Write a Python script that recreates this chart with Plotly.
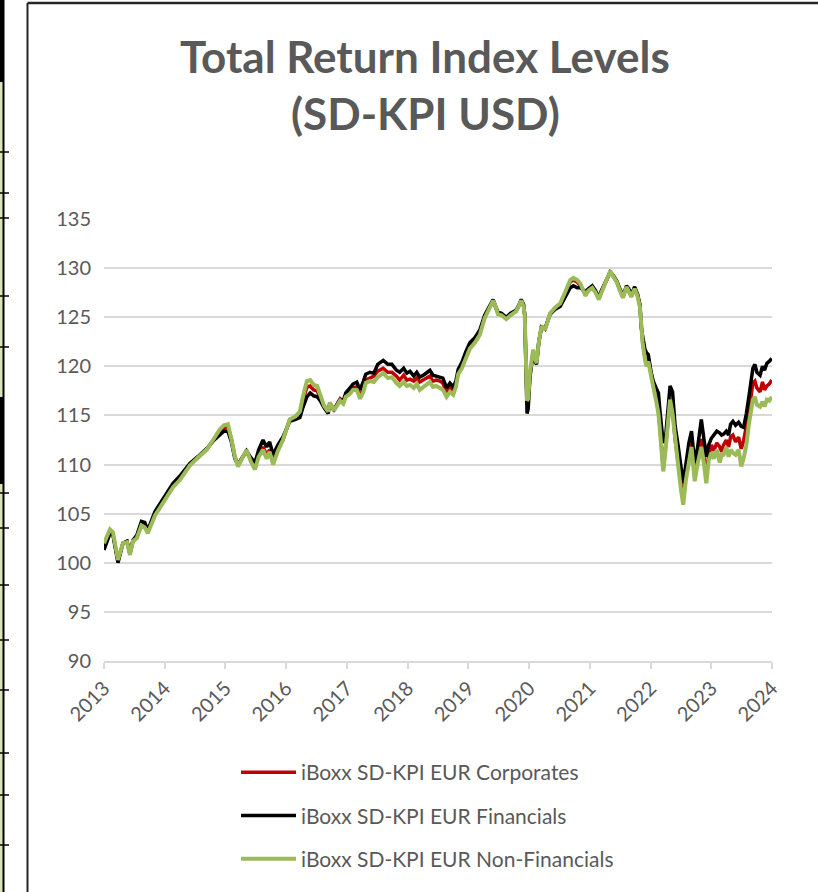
import plotly.graph_objects as go

dates = [
"2013-01-01","2013-02-06","2013-02-24","2013-03-08","2013-03-26","2013-04-25","2013-05-19","2013-06-06","2013-06-24","2013-07-17",
"2013-08-14","2013-09-03","2013-09-21","2013-11-03","2013-12-20","2014-02-20","2014-04-01","2014-06-01","2014-07-19","2014-09-09",
"2014-10-19","2014-11-29","2014-12-23","2015-01-16","2015-02-06","2015-02-27","2015-03-18","2015-04-16","2015-05-08","2015-06-03",
"2015-06-28","2015-07-20","2015-08-15","2015-09-06","2015-09-24","2015-10-15","2015-11-13","2015-12-13","2016-01-23","2016-02-27",
"2016-03-24","2016-04-11","2016-05-05","2016-05-25","2016-06-15","2016-07-06","2016-07-24","2016-08-16","2016-09-10","2016-09-20",
"2016-10-15","2016-11-02","2016-11-21","2016-12-10","2016-12-25","2017-01-19","2017-02-06","2017-03-01","2017-03-21","2017-04-10",
"2017-04-24","2017-05-19","2017-06-12","2017-07-05","2017-08-07","2017-09-04","2017-09-28","2017-10-26","2017-11-14","2017-12-08",
"2017-12-27","2018-01-15","2018-02-07","2018-02-25","2018-03-15","2018-04-14","2018-05-15","2018-06-02","2018-06-21","2018-07-14",
"2018-08-01","2018-08-23","2018-09-12","2018-10-02","2018-10-18","2018-11-01","2018-11-23","2018-12-17","2019-01-10","2019-02-09",
"2019-03-11","2019-04-09","2019-05-10","2019-05-30","2019-06-14","2019-06-28","2019-07-20","2019-08-17","2019-09-12","2019-10-15",
"2019-11-05","2019-11-15","2019-11-29","2019-12-06","2019-12-14","2019-12-20","2019-12-27","2020-01-06","2020-01-26","2020-02-06",
"2020-02-15","2020-02-29","2020-03-16","2020-04-06","2020-05-07","2020-06-06","2020-07-06","2020-08-06","2020-09-05","2020-09-24",
"2020-10-16","2020-11-05","2020-12-05","2020-12-23","2021-01-15","2021-02-04","2021-02-24","2021-03-11","2021-03-25","2021-04-14",
"2021-05-03","2021-05-20","2021-06-11","2021-06-30","2021-07-19","2021-08-09","2021-08-22","2021-09-07","2021-09-27","2021-10-15",
"2021-10-29","2021-11-06","2021-11-14","2021-11-27","2021-12-07","2021-12-18","2022-01-04","2022-01-17","2022-02-03","2022-02-17",
"2022-02-26","2022-03-07","2022-03-18","2022-04-01","2022-04-16","2022-04-28","2022-05-13","2022-05-28","2022-06-15","2022-07-02",
"2022-07-16","2022-08-01","2022-08-19","2022-09-04","2022-09-13","2022-09-23","2022-10-11","2022-11-02","2022-11-16","2022-12-02",
"2022-12-16","2023-01-02","2023-01-16","2023-02-03","2023-02-21","2023-03-04","2023-03-16","2023-04-01","2023-04-15","2023-04-27",
"2023-05-11","2023-05-27","2023-06-14","2023-06-30","2023-07-14","2023-07-31","2023-08-14","2023-08-31","2023-09-08","2023-09-20",
"2023-10-02","2023-10-21","2023-11-05","2023-11-17","2023-12-01","2023-12-15","2023-12-31",
]

corporates = [
101.6,103.2,102.9,101.8,100.2,102.0,102.2,100.9,102.2,102.6,
104.0,104.0,103.2,105.0,106.3,107.9,108.6,110.0,110.7,111.5,
112.4,113.3,113.7,113.8,112.6,110.8,110.0,110.8,111.3,110.5,
109.7,111.0,111.8,111.0,111.5,110.4,111.6,112.5,114.6,114.8,
115.3,116.5,117.9,118.0,117.6,117.5,116.9,116.0,115.5,116.3,
115.6,116.2,116.7,116.4,117.0,117.5,117.8,117.9,116.9,117.8,
118.6,118.8,119.0,119.5,119.8,119.4,119.4,119.0,118.6,119.1,
118.6,118.7,118.5,118.8,118.4,118.7,119.0,118.5,118.6,118.5,
118.3,117.3,117.8,117.4,118.2,119.3,120.0,121.0,122.0,122.6,
123.4,125.0,126.0,126.7,126.0,125.4,125.3,124.9,125.3,125.6,
126.3,126.7,126.2,125.2,120.0,116.2,116.4,119.0,121.5,120.6,
120.4,122.5,124.1,123.8,125.4,125.9,126.3,127.4,128.6,128.8,
128.6,128.2,127.4,127.8,128.0,127.6,126.9,127.6,128.1,128.9,
129.6,129.2,128.6,127.8,127.0,128.1,127.7,127.1,128.0,127.2,
126.1,123.6,122.5,121.0,120.2,120.8,119.0,118.1,116.9,115.4,
113.8,111.5,109.5,111.8,114.8,116.6,115.6,112.6,110.3,108.0,
106.5,108.8,110.8,112.2,110.5,108.8,110.5,112.6,111.0,109.0,
110.9,112.0,111.4,112.2,111.8,111.3,112.0,112.5,111.8,112.8,
113.0,112.3,112.8,111.6,112.4,113.9,115.2,117.3,118.3,118.5,
117.8,117.4,118.4,117.6,118.0,118.2,118.6,
]

financials = [
101.3,103.0,102.8,101.6,100.0,102.0,102.2,100.9,102.3,102.8,
104.2,104.1,103.3,105.2,106.5,108.1,108.8,110.1,110.8,111.6,
112.4,113.0,113.4,113.4,112.3,110.6,110.0,110.8,111.4,110.7,
110.2,111.5,112.5,111.8,112.3,111.0,112.0,112.8,114.4,114.6,
114.8,115.8,116.9,117.3,117.0,116.9,116.5,115.8,115.2,116.2,
115.5,116.1,116.6,116.5,117.3,117.8,118.2,118.4,117.6,118.5,
119.2,119.4,119.3,120.2,120.6,120.2,120.2,119.6,119.4,119.8,
119.3,119.5,119.0,119.4,118.9,119.2,119.6,119.1,119.0,118.9,
118.8,117.8,118.3,117.9,118.5,119.7,120.4,121.5,122.4,122.9,
123.7,125.2,126.2,126.8,126.1,125.5,125.4,125.0,125.4,125.7,
126.4,126.8,126.3,125.3,119.5,115.2,115.7,118.8,121.6,120.5,
120.2,122.5,124.0,123.8,125.3,125.8,126.1,127.1,128.0,128.2,
128.0,128.0,127.6,127.9,128.2,127.7,127.0,127.7,128.2,128.9,
129.6,129.3,128.7,127.9,127.2,128.2,127.9,127.3,128.1,127.3,
126.3,123.9,122.9,121.8,121.4,121.2,119.4,118.5,117.8,117.3,
115.5,113.5,112.2,112.8,115.8,118.0,117.4,114.0,112.0,109.5,
108.1,110.0,112.2,113.4,112.0,110.2,111.8,114.6,112.8,110.8,
112.0,112.7,113.0,113.4,113.2,113.0,113.1,113.4,113.0,114.1,
114.4,114.0,114.3,113.9,113.8,115.2,116.8,119.0,119.8,120.2,
119.4,119.1,120.0,119.6,120.3,120.5,120.8,
]

non_financials = [
102.0,103.4,103.1,101.7,100.3,102.0,102.1,100.8,102.2,102.5,
103.8,103.6,103.0,104.8,106.1,107.7,108.4,109.9,110.7,111.5,
112.5,113.6,114.0,114.1,112.6,110.8,109.8,110.7,111.5,110.3,
109.5,110.8,111.5,110.6,111.3,110.0,111.4,112.5,114.6,114.9,
115.4,116.9,118.5,118.6,118.1,118.0,117.0,116.0,115.4,116.3,
115.5,116.0,116.5,116.2,116.9,117.2,117.6,117.6,116.7,117.4,
118.3,118.5,118.4,118.9,119.3,118.8,118.9,118.3,118.0,118.4,
118.0,118.1,117.8,118.2,117.6,118.0,118.4,117.9,118.0,117.8,
117.6,116.9,117.4,117.1,117.9,119.2,119.8,120.8,121.8,122.4,
123.2,124.9,125.9,126.7,126.1,125.3,125.2,124.8,125.2,125.6,
126.3,126.7,126.1,125.2,120.2,116.5,116.7,119.3,121.7,120.6,
120.3,122.5,124.1,123.7,125.4,126.0,126.4,127.6,128.8,129.0,
128.8,128.4,127.2,127.7,128.0,127.5,126.8,127.5,128.1,128.9,
129.7,129.2,128.6,127.7,127.0,128.1,127.6,127.1,127.9,127.1,
126.0,123.4,122.4,120.8,120.0,120.5,118.8,117.9,116.5,115.2,
113.5,111.3,109.3,111.5,114.6,116.6,115.2,112.5,110.0,107.5,
105.9,108.4,110.5,111.8,110.2,108.3,110.1,111.8,110.3,108.1,
110.4,111.2,110.6,111.5,110.2,111.0,111.0,111.8,110.8,111.5,
111.2,111.0,111.5,109.8,110.6,112.0,114.0,116.2,116.6,116.9,
116.1,115.9,116.4,115.9,116.6,116.5,116.9,
]

series_names = ["iBoxx SD-KPI EUR Corporates", "iBoxx SD-KPI EUR Financials", "iBoxx SD-KPI EUR Non-Financials"]
series_values = [corporates, financials, non_financials]
series_colors = ["#C00000", "#000000", "#9BBB59"]

title_lines = ["Total Return Index Levels", "(SD-KPI USD)"]
y_ticks = [90, 95, 100, 105, 110, 115, 120, 125, 130, 135]
x_ticks = [f"{y}-01-01" for y in range(2013, 2025)]
x_tick_labels = [str(y) for y in range(2013, 2025)]

FONT = "Lato, 'Open Sans', sans-serif"
GREY = "#595959"

fig = go.Figure()
for i, (name, vals, col) in enumerate(zip(series_names, series_values, series_colors)):
    fig.add_trace(go.Scatter(
        x=dates, y=vals, name=name, mode="lines",
        line=dict(color=col, width=3.5 if i < 2 else 4),
        legendgroup=f"g{i}",
    ))

W, H = 818, 892
L, R, T, B = 104, 772, 219, 661

def px(x):
    return (x - L) / (R - L)

def py(y):
    return (B - y) / (B - T)

shapes = []
# chart frame border (left and top)
shapes.append(dict(type="line", xref="paper", yref="paper", x0=px(27.5), x1=px(27.5), y0=py(3), y1=py(892),
                   line=dict(color="#262626", width=2)))
shapes.append(dict(type="line", xref="paper", yref="paper", x0=px(27.5), x1=px(818), y0=py(3), y1=py(3),
                   line=dict(color="#262626", width=2.5)))
# neighbouring panel strip at the far left
shapes.append(dict(type="rect", xref="paper", yref="paper", x0=px(0), x1=px(3), y0=py(82), y1=py(892),
                   fillcolor="#d8e4bc", line=dict(width=0), layer="above"))
shapes.append(dict(type="rect", xref="paper", yref="paper", x0=px(0), x1=px(4), y0=py(0), y1=py(82),
                   fillcolor="#000000", line=dict(width=0), layer="above"))
shapes.append(dict(type="rect", xref="paper", yref="paper", x0=px(0), x1=px(4), y0=py(397), y1=py(484),
                   fillcolor="#000000", line=dict(width=0), layer="above"))
shapes.append(dict(type="line", xref="paper", yref="paper", x0=px(3.5), x1=px(3.5), y0=py(0), y1=py(892),
                   line=dict(color="#000000", width=2), layer="above"))
for yy in [152, 193, 218, 296, 347, 493, 528, 585, 640, 690, 753, 795, 845]:
    shapes.append(dict(type="line", xref="paper", yref="paper", x0=px(0), x1=px(9), y0=py(yy), y1=py(yy),
                       line=dict(color="#000000", width=1.5), layer="above"))

annotations = []
for text, yc in zip(title_lines, [56, 113]):
    annotations.append(dict(text=f"<b>{text}</b>", xref="paper", yref="paper",
                            x=px(425), y=py(yc), xanchor="center", yanchor="middle",
                            showarrow=False, font=dict(family=FONT, size=44, color=GREY)))

fig.update_layout(
    width=W, height=H,
    margin=dict(l=L, r=W - R, t=T, b=H - B),
    paper_bgcolor="white", plot_bgcolor="white",
    font=dict(family=FONT, color=GREY, size=20),
    showlegend=True,
    legend=dict(x=px(236), xanchor="left", y=py(752), yanchor="top",
                font=dict(family=FONT, size=21, color=GREY),
                tracegroupgap=13, itemwidth=55, bgcolor="rgba(0,0,0,0)"),
    xaxis=dict(type="date", range=["2013-01-01", "2024-01-01"],
               tickmode="array", tickvals=x_ticks, ticktext=x_tick_labels,
               tickangle=-45, showgrid=False, showline=True, linecolor="#d9d9d9", linewidth=1.5,
               ticks="outside", ticklen=6, tickcolor="#d9d9d9", tickwidth=1.5,
               tickfont=dict(family=FONT, size=20, color=GREY), zeroline=False),
    yaxis=dict(range=[90, 135], tickmode="array", tickvals=y_ticks,
               showgrid=True, gridcolor="#d9d9d9", gridwidth=1.5, zeroline=False,
               ticks="", ticklabelstandoff=12,
               tickfont=dict(family=FONT, size=20, color=GREY)),
    shapes=shapes,
    annotations=annotations,
)

fig.write_html("out.html", config={"displayModeBar": False},
               post_script="document.body.style.margin='0';document.body.style.padding='0';document.body.style.overflow='hidden';")
